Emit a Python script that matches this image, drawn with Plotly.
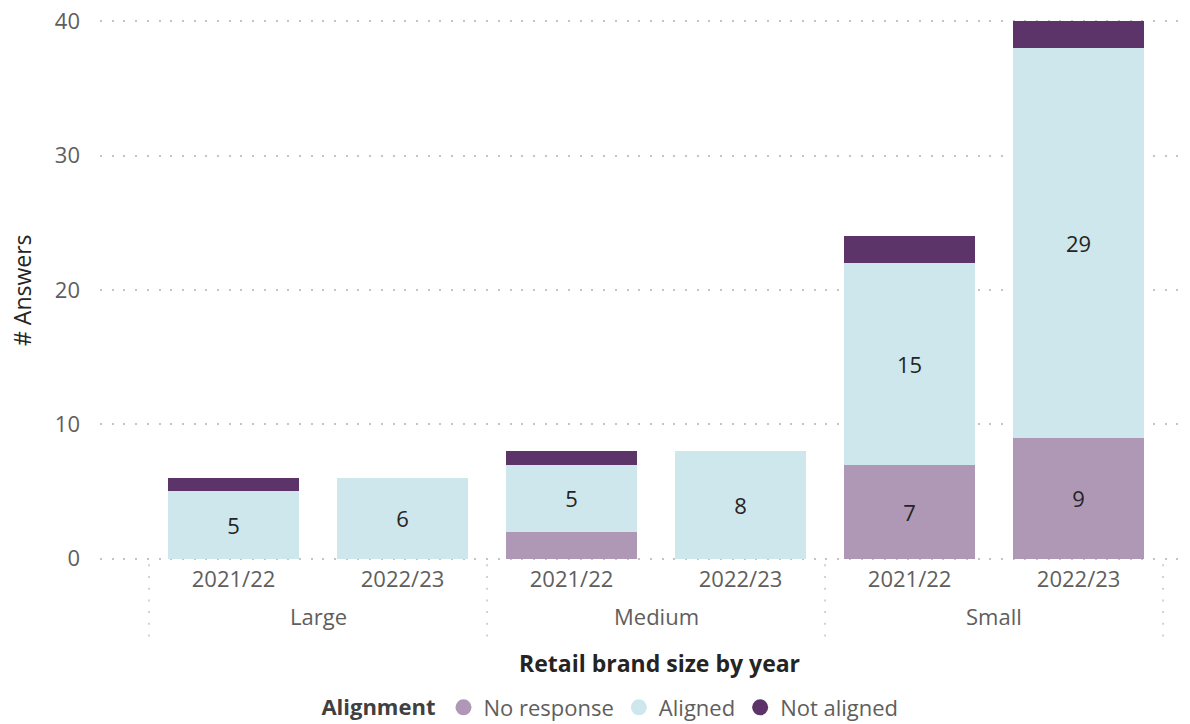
import plotly.graph_objects as go

# Data: answers by retail brand size and year
sizes = ["Large", "Large", "Medium", "Medium", "Small", "Small"]
years = ["2021/22", "2022/23", "2021/22", "2022/23", "2021/22", "2022/23"]
no_response = [0, 0, 2, 0, 7, 9]
aligned = [5, 6, 5, 8, 15, 29]
not_aligned = [1, 0, 1, 0, 2, 2]

series = [
    ("No response", no_response, "#AE98B5"),
    ("Aligned", aligned, "#CDE7EC"),
    ("Not aligned", not_aligned, "#5C346A"),
]

FONT = "Segoe UI, Open Sans, sans-serif"
TICK_COLOR = "#605E5C"
TITLE_COLOR = "#252423"
DOT = "2px,9.7px"
DOT_COLOR = "#C4C4C4"

x = list(range(len(years)))

fig = go.Figure()
for name, vals, color in series:
    labels = [str(v) if v >= 5 else "" for v in vals]
    fig.add_trace(go.Bar(
        x=x, y=vals, name=name, marker=dict(color=color, line=dict(width=0)),
        text=labels, textposition="inside", insidetextanchor="middle",
        textfont=dict(family=FONT, size=22, color=TITLE_COLOR),
        textangle=0, showlegend=False, width=0.775,
    ))
    # circle legend entries
    fig.add_trace(go.Scatter(
        x=[None], y=[None], mode="markers", name=name,
        marker=dict(color=color, size=18, symbol="circle"),
    ))

fig.update_layout(
    barmode="stack",
    width=1190, height=724,
    margin=dict(l=100, r=10, t=20, b=164, autoexpand=False),
    plot_bgcolor="white", paper_bgcolor="white",
    font=dict(family=FONT, color=TICK_COLOR, size=22),
    xaxis=dict(
        range=[-0.79, 5.6], tickvals=x, ticktext=years,
        showgrid=False, zeroline=False, showline=False,
        ticks="", tickfont=dict(size=22, color=TICK_COLOR),
        ticklabelstandoff=4,
    ),
    yaxis=dict(
        range=[-0.1, 40.1], tickvals=[0, 10, 20, 30, 40],
        showgrid=True, gridcolor=DOT_COLOR, griddash=DOT, gridwidth=1.5,
        zeroline=False, showline=False, ticks="",
        tickfont=dict(size=22, color=TICK_COLOR), ticklabelstandoff=19,
    ),
    legend=dict(
        orientation="h", traceorder="normal",
        x=0.4735, xanchor="center", y=(559 - 706) / 538, yanchor="middle",
        title=dict(text="<b>Alignment</b>", font=dict(size=22, color="#404040")),
        font=dict(size=22, color=TICK_COLOR), itemwidth=30,
        tracegroupgap=0,
    ),
)

# group labels below year ticks
groups = [("Large", 0.5), ("Medium", 2.5), ("Small", 4.5)]
for label, pos in groups:
    fig.add_annotation(
        x=pos, xref="x", y=(559 - 615) / 538, yref="paper", yanchor="middle",
        text=label, showarrow=False, font=dict(size=22, color=TICK_COLOR),
    )

# dotted separators between groups
for sep in [-0.5, 1.5, 3.5, 5.5]:
    fig.add_shape(
        type="line", x0=sep, x1=sep, xref="x", y0=-0.008, y1=-0.143, yref="paper",
        line=dict(color=DOT_COLOR, width=1.5, dash=DOT),
    )

# axis titles
fig.add_annotation(
    x=(659 - 100) / 1080, xref="paper", y=(559 - 662) / 538, yref="paper",
    yanchor="middle", text="<b>Retail brand size by year</b>", showarrow=False,
    font=dict(size=23, color=TITLE_COLOR),
)
fig.add_annotation(
    x=(22 - 100) / 1080, xref="paper", y=0.5, yref="paper",
    xanchor="center", yanchor="middle", textangle=-90,
    text="# Answers", showarrow=False, font=dict(size=23, color=TITLE_COLOR),
)

fig.write_html("out.html")
